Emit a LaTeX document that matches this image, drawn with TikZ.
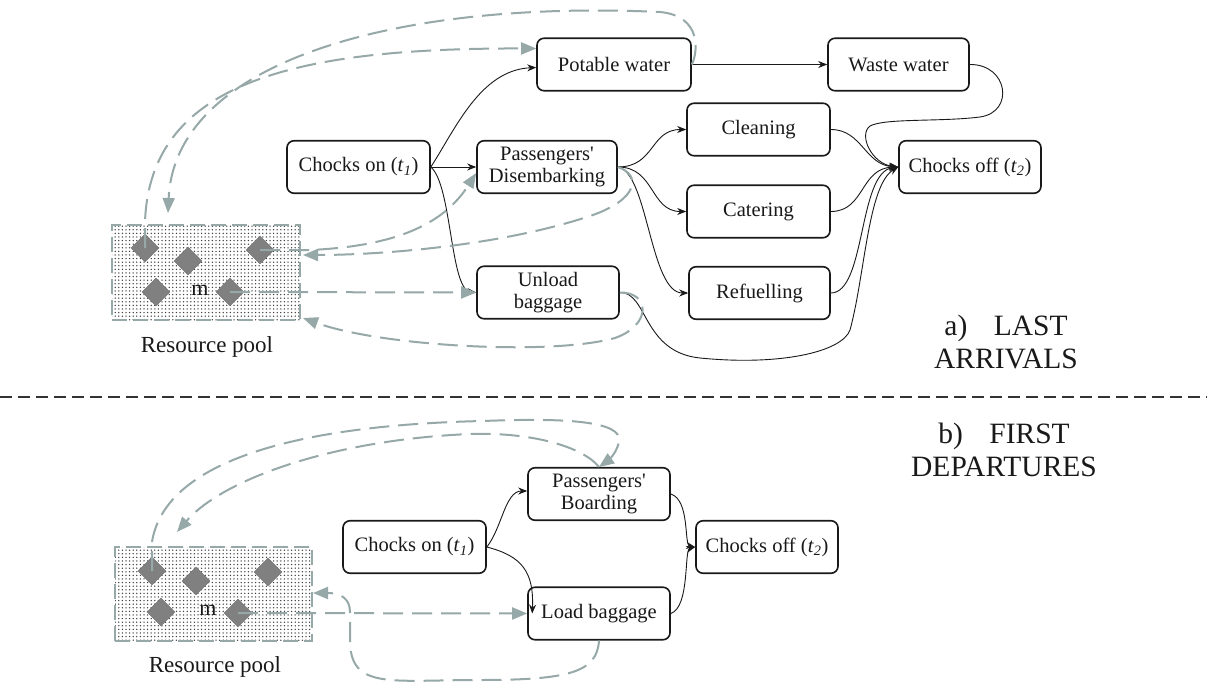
\documentclass[tikz,border=0pt]{standalone}
\usepackage{fontspec}
\setmainfont{Liberation Serif}[Ligatures=TeXOff]
\usetikzlibrary{arrows.meta,patterns.meta,shapes.geometric}

\definecolor{linkgray}{RGB}{150,168,168}
\definecolor{chipgray}{RGB}{128,128,128}
\definecolor{ink}{RGB}{25,25,25}

\tikzset{
  task/.style={draw=ink, line width=1.6pt, rounded corners=7pt, fill=white,
    align=center, inner sep=0pt, minimum height=52.5pt, text=ink,
    font=\fontsize{20.5}{22}\selectfont},
  flow/.style={draw=ink, line width=0.9pt, -{Stealth[length=9pt,width=7pt]}},
  res/.style={draw=linkgray, line width=2pt, dash pattern=on 20pt off 9pt,
    -{Triangle[length=15pt,width=12pt]}},
  pool/.style={draw=linkgray, line width=2.5pt, dash pattern=on 15pt off 6pt,
    pattern={Dots[distance=3.6pt,radius=0.75pt]}, pattern color=black!75,
    inner sep=0pt},
  chip/.style={diamond, aspect=1, fill=chipgray, draw=chipgray!85!black,
    line width=0.4pt, minimum width=28pt, minimum height=28pt, inner sep=0pt},
  poollabel/.style={font=\fontsize{23}{25}\selectfont, text=ink},
  mark m/.style={font=\fontsize{22}{24}\selectfont, text=ink},
  caption/.style={font=\fontsize{29.5}{33}\selectfont, align=center, text=ink},
  separator/.style={draw=black!80, line width=1.1pt, dash pattern=on 12pt off 6pt}
}

\begin{document}
\begin{tikzpicture}[x=1pt,y=-1pt]
\fill[white] (0,0) rectangle (1207,687);
\useasboundingbox (0,0) rectangle (1207,687);

% ---------------- a) last arrivals ----------------
\node[pool, minimum width=188pt, minimum height=95pt] (pool1) at (206,272.5) {};
\node[chip] (p1a) at (145,248) {};
\node[chip] (p1b) at (188,261) {};
\node[chip] (p1c) at (260,250) {};
\node[chip] (p1d) at (156,292) {};
\node[chip] (p1e) at (230,292) {};
\node[mark m] (m1) at (200,290) {m};
\node[poollabel] (rp1) at (207,347) {Resource pool};

\node[task, minimum width=154pt] (pw) at (614,64.5) {Potable water};
\node[task, minimum width=141pt] (ww) at (898.5,64.5) {Waste water};
\node[task, minimum width=143pt] (con1) at (358.5,167) {Chocks on (\textit{t}\textsubscript{\textit{1}})};
\node[task, minimum width=140pt] (dis) at (547,167) {Passengers'\\Disembarking};
\node[task, minimum width=143pt] (cle) at (758.5,129.5) {Cleaning};
\node[task, minimum width=143pt] (cat) at (758.5,211.5) {Catering};
\node[task, minimum width=141pt] (ref) at (759.5,293) {Refuelling};
\node[task, minimum width=142pt] (coff1) at (970,167) {Chocks off (\textit{t}\textsubscript{\textit{2}})};
\node[task, minimum width=142pt] (ub) at (548,292.5) {Unload\\baggage};

\node[caption] (capa) at (1006,342) {a)\hspace{0.9em}LAST\\ARRIVALS};

% precedence links
\draw[flow] (con1.east) .. controls (455,130) and (480,70) .. ([yshift=-3pt]pw.west);
\draw[flow] (con1.east) -- (dis.west);
\draw[flow] (con1.east) .. controls (452,185) and (450,290) .. (ub.west);
\draw[flow] (pw.east) -- (ww.west);
\draw[flow] (dis.east) .. controls (655,167) and (650,129.5) .. (cle.west);
\draw[flow] (dis.east) .. controls (655,167) and (650,211.5) .. (cat.west);
\draw[flow] (dis.east) .. controls (648,172) and (650,293) .. (ref.west);
\draw[flow] (cle.east) .. controls (862,129.5) and (865,165) .. (coff1.west);
\draw[flow] (cat.east) .. controls (865,211.5) and (860,168) .. (coff1.west);
\draw[flow] (ref.east) .. controls (866,293) and (858,172) .. (coff1.west);
\draw[flow] (ww.east) .. controls (1008,64) and (1015,112) .. (980,117)
  .. controls (940,122) and (885,118) .. (870,126)
  .. controls (858,135) and (872,164) .. (coff1.west);
\draw[flow] (ub.east) .. controls (648,292) and (642,352) .. (700,358)
  .. controls (780,366) and (842,352) .. (850,330)
  .. controls (865,275) and (868,185) .. (coff1.west);

% resource links
\draw[res] (p1a.center) -- (145,222) .. controls (150,80) and (300,48) .. ([yshift=16pt]pw.west);
\draw[res] (pw.east) .. controls (698,52) and (702,16) .. (660,12)
  .. controls (400,0) and (175,60) .. (168,213);
\draw[res] (p1c.center) -- (310,250) .. controls (400,246) and (445,222) .. ([yshift=-6pt]dis.west);
\draw[res] (dis.east) .. controls (642,175) and (638,200) .. (590,216)
  .. controls (500,246) and (380,255) .. (303,255);
\draw[res] (p1e.center) -- (ub.west);
\draw[res] (ub.east) .. controls (650,292) and (652,325) .. (615,338)
  .. controls (550,356) and (380,346) .. (303,318);

% separator
\coordinate (sepL) at (0,397);
\coordinate (sepR) at (1207,397);
\draw[separator] (sepL) -- (sepR);

% ---------------- b) first departures ----------------
\node[pool, minimum width=197pt, minimum height=94pt] (pool2) at (213.5,594) {};
\node[chip] (p2a) at (152,571) {};
\node[chip] (p2b) at (196,581) {};
\node[chip] (p2c) at (268,572) {};
\node[chip] (p2d) at (161,612) {};
\node[chip] (p2e) at (238,613) {};
\node[mark m] (m2) at (208,610) {m};
\node[poollabel] (rp2) at (215,667) {Resource pool};

\node[task, minimum width=143pt] (con2) at (414.5,547) {Chocks on (\textit{t}\textsubscript{\textit{1}})};
\node[task, minimum width=142pt] (pb) at (599,494) {Passengers'\\Boarding};
\node[task, minimum width=142pt] (lb) at (599,613.5) {Load baggage};
\node[task, minimum width=142pt] (coff2) at (767,547) {Chocks off (\textit{t}\textsubscript{\textit{2}})};

\node[caption] (capb) at (1004,450) {b)\hspace{0.9em}FIRST\\DEPARTURES};

% precedence links
\draw[flow] (con2.east) .. controls (502,528) and (505,491) .. ([yshift=3pt]pb.west);
\draw[flow] (con2.east) .. controls (522,556) and (534,572) .. ([xshift=5pt]lb.west);
\draw[flow] (pb.east) .. controls (690,500) and (684,545) .. (coff2.west);
\draw[flow] (lb.east) .. controls (690,607) and (684,550) .. (coff2.west);

% resource links
\draw[res] (p2a.center) -- (152,542) .. controls (165,460) and (300,425) .. (483,421)
  .. controls (560,418) and (624,420) .. (619,442)
  .. controls (616,455) and (606,462) .. (pb.north);
\draw[res] (pb.north) .. controls (582,446) and (530,432) .. (470,434)
  .. controls (330,440) and (222,480) .. (177,532);
\draw[res] (p2e.center) -- (lb.west);
\draw[res] (lb.south) .. controls (597,672) and (570,680) .. (480,680)
  .. controls (390,680) and (350,690) .. (350,640) -- (350,612)
  .. controls (350,598) and (340,593) .. (313,593);

\end{tikzpicture}
\end{document}
